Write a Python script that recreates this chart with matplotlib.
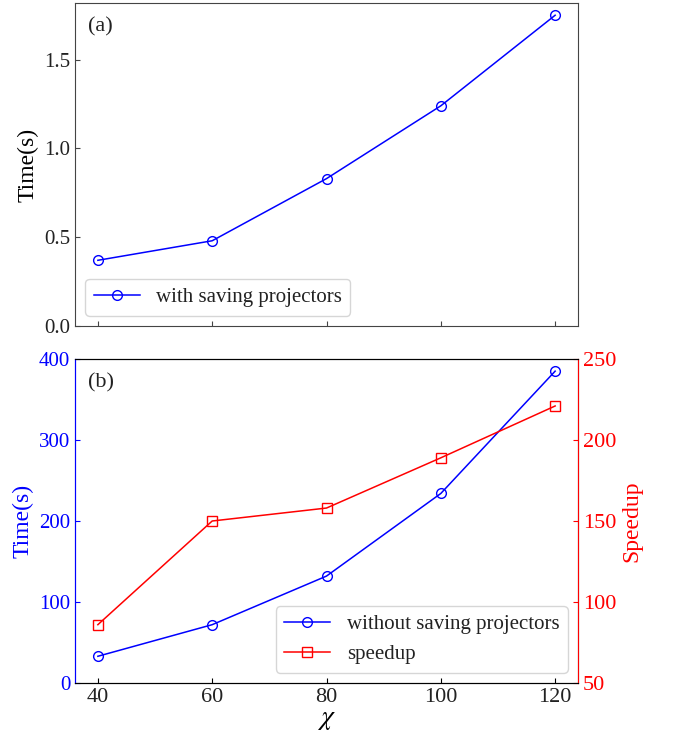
import matplotlib
matplotlib.use("Agg")
import matplotlib.pyplot as plt

plt.rcParams['font.family'] = ['Liberation Serif', 'DejaVu Serif']
plt.rcParams['mathtext.fontset'] = 'stix'
plt.rcParams['xtick.direction'] = 'in'
plt.rcParams['ytick.direction'] = 'in'
plt.rcParams['text.color'] = '#222222'
plt.rcParams['xtick.labelcolor'] = '#222222'
plt.rcParams['ytick.labelcolor'] = '#222222'

chi = [40, 60, 80, 100, 120]
time_with = [0.37, 0.48, 0.83, 1.24, 1.75]
time_without = [33, 72, 132, 234, 385]
speedup = [86, 150, 158, 189, 221]

W, H = 676, 738
fig = plt.figure(figsize=(W/100, H/100), dpi=100)
ax1 = fig.add_axes([75/W, (H-326)/H, 503/W, 323/H])
ax2 = fig.add_axes([75/W, (H-683)/H, 503/W, 324/H], sharex=ax1)

ax1.plot(chi, time_with, color='b', marker='o', mfc='none', ms=7, lw=1.1,
         label='with saving projectors')
ax1.set_ylim(bottom=0)
ax1.set_yticks([0.0, 0.5, 1.0, 1.5])
ax1.set_yticklabels(['0.0', '0.5', '1.0', '1.5'])
ax1.set_ylabel('Time(s)', fontsize=17)
ax1.tick_params(labelsize=15, labelbottom=False)
for s in ax1.spines.values():
    s.set_color('#444444')
ax1.tick_params(color='#444444')
ax1.text(0.025, 0.955, '(a)', transform=ax1.transAxes, fontsize=16, va='top')
ax1.legend(loc='lower left', fontsize=15, handlelength=2.2)

l1, = ax2.plot(chi, time_without, color='b', marker='o', mfc='none', ms=7, lw=1.1,
               label='without saving projectors')
ax2.set_ylim(0, 400)
ax2.set_yticks([0, 100, 200, 300, 400])
ax2.set_ylabel('Time(s)', fontsize=17, color='b')
ax2.tick_params(axis='y', labelsize=15, colors='b', labelcolor='b')
ax2.tick_params(axis='x', labelsize=16)
ax2.spines['left'].set_color('b')
ax2.set_xlabel(r'$\chi$', fontsize=20, labelpad=0)
ax2.set_xticks(chi)
ax2.text(0.025, 0.955, '(b)', transform=ax2.transAxes, fontsize=16, va='top')

ax3 = ax2.twinx()
l2, = ax3.plot(chi, speedup, color='r', marker='s', mfc='none', ms=7, lw=1.1,
               label='speedup')
ax3.set_ylim(50, 250)
ax3.set_yticks([50, 100, 150, 200, 250])
ax3.set_ylabel('Speedup', fontsize=17, color='r')
ax3.tick_params(axis='y', labelsize=16, colors='r', labelcolor='r')
ax3.spines['right'].set_color('r')
ax3.spines['left'].set_color('b')
ax3.legend([l1, l2], [l1.get_label(), l2.get_label()], loc='lower right',
           fontsize=15, handlelength=2.2)

fig.savefig('out.png', dpi=100)
